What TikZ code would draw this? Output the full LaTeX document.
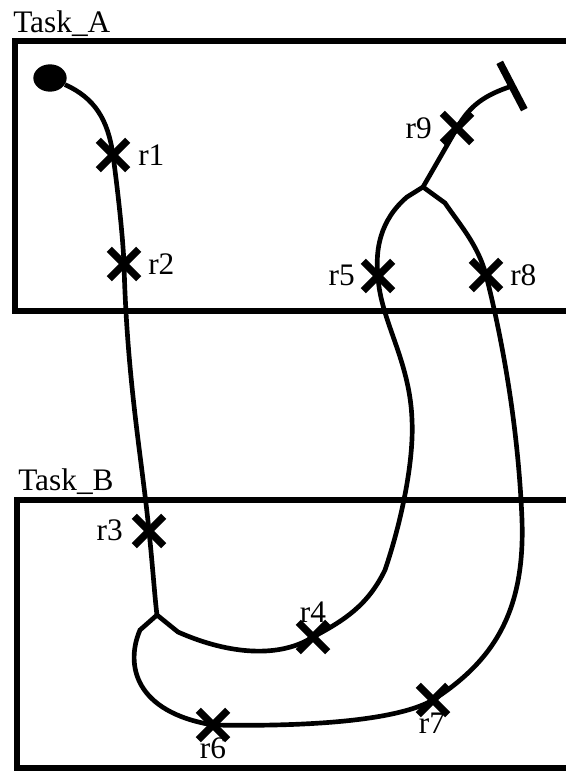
\documentclass[tikz,border=0pt]{standalone}
\usepackage{fontspec}
\setmainfont{Liberation Serif}
\usetikzlibrary{shapes.misc,shapes.geometric}
\begin{document}
\begin{tikzpicture}[x=0.75pt,y=-0.75pt,font=\fontsize{23.5}{28}\selectfont,
	rmark/.style={cross out,draw,line width=5.5pt,minimum size=16.5pt,inner sep=0pt},
	lbl/.style={inner sep=0pt},
	trace/.style={line width=3.5pt},
	frame/.style={line width=3.9pt}]
	\useasboundingbox (0,0) rectangle (565,771) ;
	% task frames
	\node (tA)[anchor=base west,inner sep=0pt] at (13,32) {Task\_A} ;
	\node (tB)[anchor=base west,inner sep=0pt] at (18,490) {Task\_B} ;
	\draw[frame] (575,41) -- (15,41) -- (15,311) -- (575,311) ;
	\draw[frame] (575,500) -- (17,500) -- (17,768) -- (575,768) ;
	% start and stop
	\node (start)[ellipse,fill,minimum width=25pt,minimum height=20.5pt,inner sep=0pt] at (50,78) {} ;
	\node (stop)[rectangle,fill,minimum width=40pt,minimum height=5.5pt,inner sep=0pt,rotate=-62.5] at (512,86) {} ;
	% marks
	\node (r1)[rmark] at (113,155) {} ;
	\node (r2)[rmark] at (124,264) {} ;
	\node (r3)[rmark] at (149,531) {} ;
	\node (r4)[rmark] at (313,637) {} ;
	\node (r5)[rmark] at (378,276) {} ;
	\node (r6)[rmark] at (213,725) {} ;
	\node (r7)[rmark] at (433,700) {} ;
	\node (r8)[rmark] at (486,275) {} ;
	\node (r9)[rmark] at (457,128) {} ;
	\node (l1)[lbl,anchor=west] at (138,155) {r1} ;
	\node (l2)[lbl,anchor=west] at (148,264) {r2} ;
	\node (l3)[lbl,anchor=east] at (123,530) {r3} ;
	\node (l4)[lbl] at (313,612) {r4} ;
	\node (l5)[lbl,anchor=east] at (355,275) {r5} ;
	\node (l6)[lbl] at (213,748) {r6} ;
	\node (l7)[lbl] at (432,723) {r7} ;
	\node (l8)[lbl,anchor=west] at (510,275) {r8} ;
	\node (l9)[lbl,anchor=east] at (432,128) {r9} ;
	% branch points
	\coordinate (j1) at (157,615) ;
	\coordinate (j2) at (423,187) ;
	% traces
	\draw[trace] (start) .. controls (95,98) and (108,120) .. (r1.center)
		.. controls (119,200) and (123,240) .. (r2.center)
		.. controls (127,380) and (142,460) .. (r3.center)
		.. controls (153,570) and (155,600) .. (j1) ;
	\draw[trace] (j1) -- (140,630) .. controls (125,665) and (135,712) .. (r6.center)
		.. controls (320,727) and (400,719) .. (r7.center)
		.. controls (495,660) and (525,610) .. (522,520)
		.. controls (518,420) and (500,330) .. (r8.center)
		.. controls (478,245) and (460,225) .. (445,203) -- (j2) ;
	\draw[trace] (j1) -- (178,632) .. controls (230,655) and (280,658) .. (r4.center)
		.. controls (345,620) and (368,605) .. (385,570)
		.. controls (402,520) and (414,460) .. (412,420)
		.. controls (410,360) and (380,320) .. (r5.center)
		.. controls (375,250) and (380,220) .. (407,197) -- (j2) ;
	\draw[trace] (j2) -- (r9.center) .. controls (470,105) and (485,95) .. (stop.center) ;
\end{tikzpicture}
\end{document}
